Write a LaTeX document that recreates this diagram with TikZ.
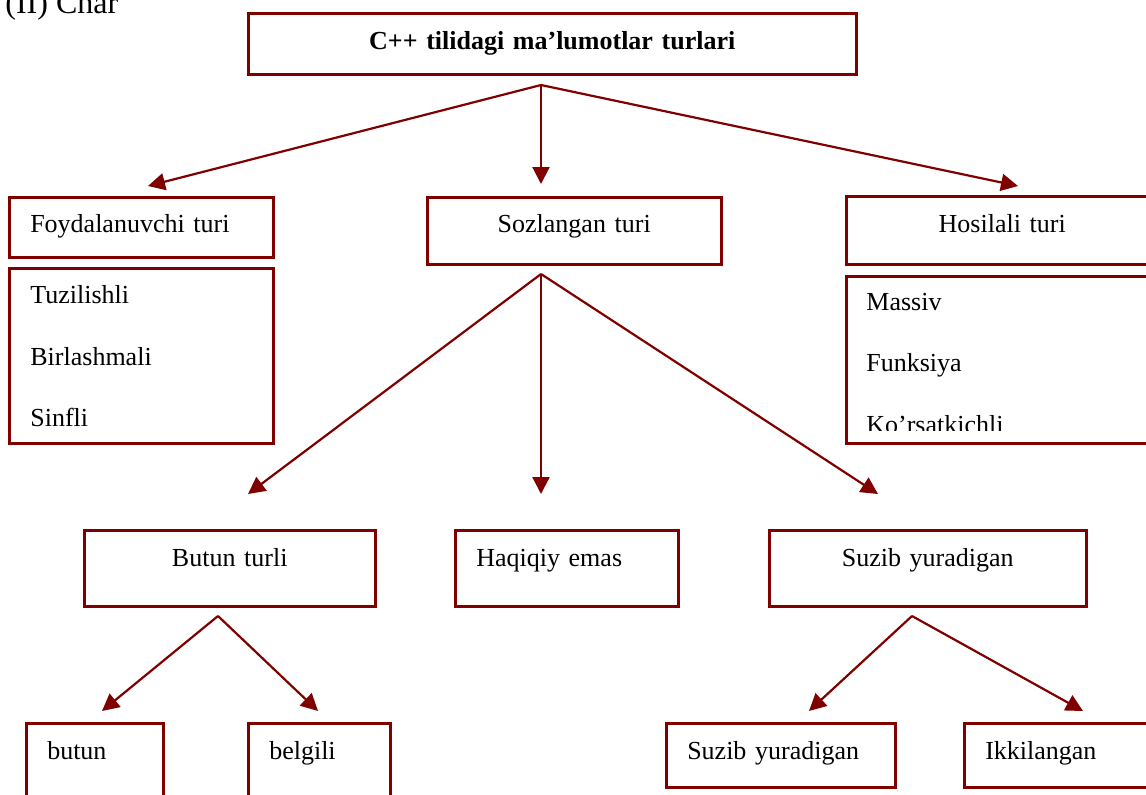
\documentclass[tikz,border=0pt]{standalone}
\usepackage{fontspec}
\setmainfont{Liberation Serif}
\usepackage{xcolor}
\usetikzlibrary{arrows.meta, positioning}
\definecolor{boxred}{HTML}{800000}
\tikzset{
  box/.style={draw=boxred, line width=1.25pt, inner xsep=10.5pt, inner ysep=0pt,
              font=\fontsize{13}{15.6}\selectfont, text height=17.5pt},
  leftbox/.style={box, align=left},
  midbox/.style={box, align=center},
  listbox/.style={draw=boxred, line width=1.25pt, inner sep=0pt},
  item/.style={font=\fontsize{13}{15.6}\selectfont, inner sep=0pt},
  arrow/.style={-{Triangle[length=8.5pt, width=8.5pt]}, line width=1.1pt, draw=boxred},
}

\begin{document}
\begin{tikzpicture}[x=0.5pt, y=-0.5pt]

  \useasboundingbox (0,0) rectangle (1146,794);

  %% heading, cut off at the top
  \node[item, anchor=base west, font=\fontsize{16}{19}\selectfont] (heading) at (5,13) {(II) Char};

  %% top
  \node[midbox, anchor=north west, text width=283pt, text height=18pt, text depth=12.5pt,
        font=\fontsize{13}{15.6}\selectfont\bfseries] (title) at (247,12) {C++ tilidagi ma’lumotlar turlari};

  %% level 1
  \node[leftbox, anchor=north west, text width=111pt, text depth=12.5pt] (foyda) at (8,196) {Foydalanuvchi turi};
  \node[midbox, anchor=north west, text width=126pt, text depth=16pt] (sozl) at (426,196) {Sozlangan turi};
  \node[midbox, anchor=north west, text width=135pt, text height=18pt, text depth=16pt] (hosil) at (845,195) {Hosilali turi};

  %% lists under level 1
  \node[listbox, anchor=north west, minimum width=132pt, minimum height=87.5pt] (foylist) at (8,267) {};
  \foreach \i/\txt in {1/Tuzilishli, 2/Birlashmali, 3/Sinfli}
  {
    \node[item, anchor=base west] (foylist-\i) at (30, 241.6+61.7*\i) {\txt};
  }

  \node[listbox, anchor=north west, minimum width=156pt, minimum height=83.5pt] (hoslist) at (845,275) {};
  \begin{scope}
    \clip (845,275) rectangle (1146,430);
    \foreach \i/\txt in {1/Massiv, 2/Funksiya, 3/Ko’rsatkichli}
    {
      \node[item, anchor=base west] (hoslist-\i) at (866, 248.3+61.7*\i) {\txt};
    }
  \end{scope}

  %% level 2
  \node[midbox, anchor=north west, text width=124.5pt, text height=18pt, text depth=20pt] (butunturli) at (83,529) {Butun turli};
  \node[leftbox, anchor=north west, text width=90.5pt, text height=18pt, text depth=20pt] (haqiqiy) at (454,529) {Haqiqiy emas};
  \node[midbox, anchor=north west, text width=137.5pt, text height=18pt, text depth=20pt] (suzib) at (768,529) {Suzib yuradigan};

  %% level 3
  \node[leftbox, anchor=north west, text width=47.5pt, text height=18pt, text depth=32pt] (butun) at (25,722) {butun};
  \node[leftbox, anchor=north west, text width=50pt, text height=18pt, text depth=32pt] (belgili) at (247,722) {belgili};
  \node[leftbox, anchor=north west, text width=93.5pt, text height=18pt, text depth=14pt] (suzibb) at (665,722) {Suzib yuradigan};
  \node[leftbox, anchor=north west, text width=89pt, text height=18pt, text depth=14pt] (ikki) at (963,722) {Ikkilangan};

  %% fork points and arrow ends
  \coordinate (topfork) at (541,85);
  \coordinate (foyda-in) at (148,186);
  \coordinate (sozl-in) at (541,184);
  \coordinate (hosil-in) at (1018,186);
  \coordinate (sozlfork) at (541,274);
  \coordinate (butunturli-in) at (248,494);
  \coordinate (haqiqiy-in) at (541,494);
  \coordinate (suzib-in) at (878,494);
  \coordinate (butunfork) at (218,616);
  \coordinate (butun-in) at (102,711);
  \coordinate (belgili-in) at (318,711);
  \coordinate (suzibfork) at (912,616);
  \coordinate (suzibb-in) at (809,711);
  \coordinate (ikki-in) at (1083,711);

  %% Arrows
  \foreach \a/\b in {topfork/foyda-in, topfork/sozl-in, topfork/hosil-in,
                     sozlfork/butunturli-in, sozlfork/haqiqiy-in, sozlfork/suzib-in,
                     butunfork/butun-in, butunfork/belgili-in,
                     suzibfork/suzibb-in, suzibfork/ikki-in}
  {
    \draw[arrow] (\a) -- (\b);
  }

\end{tikzpicture}
\end{document}
